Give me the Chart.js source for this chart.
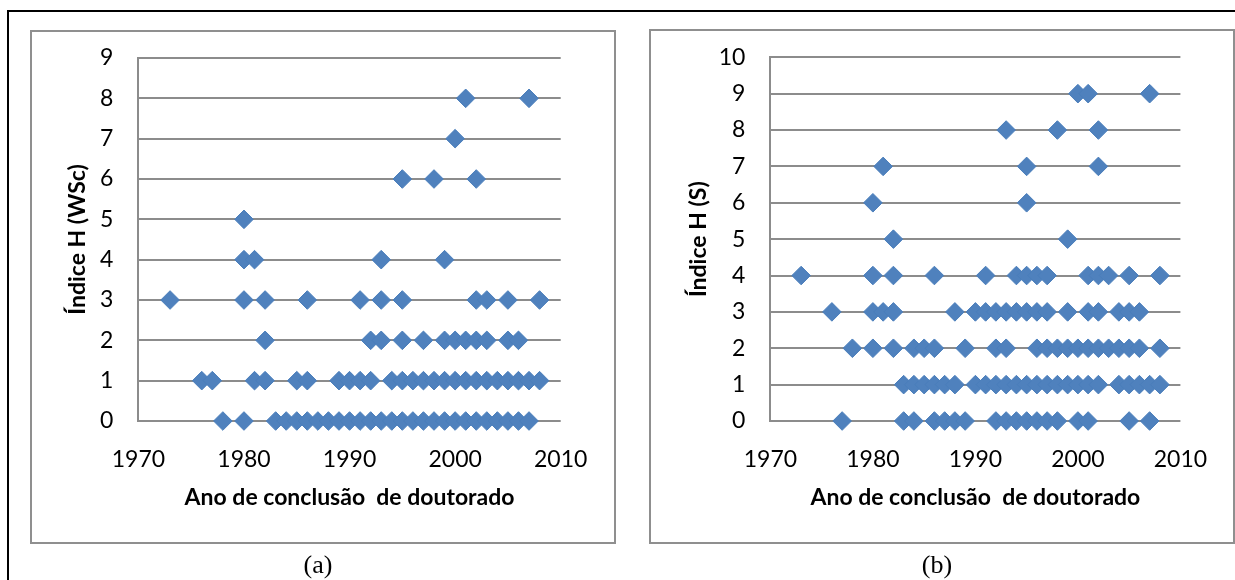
<!DOCTYPE html>
<html>
<head>
<meta charset="utf-8">
<script src="https://cdn.jsdelivr.net/npm/chart.js@4"></script>
<style>
  html, body { margin: 0; padding: 0; background: #fff; }
  body { width: 1235px; height: 580px; position: relative; overflow: hidden; }
  .frame { position: absolute; left: 7px; top: 10px; width: 1230px; height: 572px;
           border-top: 2px solid #000; border-left: 2px solid #000; box-sizing: border-box; }
  .box { position: absolute; border: 2px solid #8f8f8f; box-sizing: border-box; }
  canvas { position: absolute; top: 0; }
  .cap { position: absolute; top: 550px; width: 80px; height: 30px; line-height: 30px; text-align: center;
         font-family: "Liberation Serif", "DejaVu Serif", serif; font-size: 26px; color: #000; }
</style>
</head>
<body>
<div class="frame"></div>
<div class="box" style="left:30px; top:30px; width:586px; height:514px;"></div>
<div class="box" style="left:649px; top:29px; width:586px; height:515px;"></div>
<div style="position:absolute; left:0; top:0; width:617px; height:580px;"><canvas id="chartA"></canvas></div>
<div style="position:absolute; left:617px; top:0; width:618px; height:580px;"><canvas id="chartB"></canvas></div>
<div class="cap" style="left:278px;">(a)</div>
<div class="cap" style="left:897px;">(b)</div>
<script>
// ---- Data: years of doctorate conclusion per H-index value ----
// Chart (a): Índice H (WSc)
const wscH0 = [1978, 1980, 1983, 1984, 1985, 1986, 1987, 1988, 1989, 1990, 1991, 1992, 1993, 1994, 1995, 1996, 1997, 1998, 1999, 2000, 2001, 2002, 2003, 2004, 2005, 2006, 2007];
const wscH1 = [1976, 1977, 1981, 1982, 1985, 1986, 1989, 1990, 1991, 1992, 1994, 1995, 1996, 1997, 1998, 1999, 2000, 2001, 2002, 2003, 2004, 2005, 2006, 2007, 2008];
const wscH2 = [1982, 1992, 1993, 1995, 1997, 1999, 2000, 2001, 2002, 2003, 2005, 2006];
const wscH3 = [1973, 1980, 1982, 1986, 1991, 1993, 1995, 2002, 2003, 2005, 2008];
const wscH4 = [1980, 1981, 1993, 1999];
const wscH5 = [1980];
const wscH6 = [1995, 1998, 2002];
const wscH7 = [2000];
const wscH8 = [2001, 2007];
const wscRows = [wscH0, wscH1, wscH2, wscH3, wscH4, wscH5, wscH6, wscH7, wscH8];

// Chart (b): Índice H (S)
const sH0 = [1977, 1983, 1984, 1986, 1987, 1988, 1989, 1992, 1993, 1994, 1995, 1996, 1997, 1998, 2000, 2001, 2005, 2007];
const sH1 = [1983, 1984, 1985, 1986, 1987, 1988, 1990, 1991, 1992, 1993, 1994, 1995, 1996, 1997, 1998, 1999, 2000, 2001, 2002, 2004, 2005, 2006, 2007, 2008];
const sH2 = [1978, 1980, 1982, 1984, 1985, 1986, 1989, 1992, 1993, 1996, 1997, 1998, 1999, 2000, 2001, 2002, 2003, 2004, 2005, 2006, 2008];
const sH3 = [1976, 1980, 1981, 1982, 1988, 1990, 1991, 1992, 1993, 1994, 1995, 1996, 1997, 1999, 2001, 2002, 2004, 2005, 2006];
const sH4 = [1973, 1980, 1982, 1986, 1991, 1994, 1995, 1996, 1997, 2001, 2002, 2003, 2005, 2008];
const sH5 = [1982, 1999];
const sH6 = [1980, 1995];
const sH7 = [1981, 1995, 2002];
const sH8 = [1993, 1998, 2002];
const sH9 = [2000, 2001, 2007];
const sRows = [sH0, sH1, sH2, sH3, sH4, sH5, sH6, sH7, sH8, sH9];

// Axis ranges / tick labels
const xTicks = [1970, 1980, 1990, 2000, 2010];
const yMaxA = 9;
const yMaxB = 10;

const xTitle = 'Ano de conclusão  de doutorado';
const yTitleA = 'Índice H (WSc)';
const yTitleB = 'Índice H (S)';

function rowsToPoints(rows) {
  const pts = [];
  rows.forEach((years, h) => years.forEach(yr => pts.push({ x: yr, y: h })));
  return pts;
}

const GRID = '#8c8c8c';
const tickFont = { family: 'Lato, "Open Sans", sans-serif', size: 23 };
const titleFont = { family: 'Lato, "Open Sans", sans-serif', size: 23, weight: 'bold' };

function makeChart(id, rows, yMax, yTitle, geo) {
  const ctx = document.getElementById(id);
  return new Chart(ctx, {
    type: 'scatter',
    data: {
      datasets: [{
        data: rowsToPoints(rows),
        pointStyle: 'rectRot',
        pointRadius: 9.3,
        pointHoverRadius: 9.3,
        backgroundColor: '#4F81BD',
        borderColor: '#4A7EBB',
        borderWidth: 1,
        clip: false
      }]
    },
    options: {
      responsive: true,
      maintainAspectRatio: false,
      animation: false,
      events: [],
      layout: { padding: { left: 0, top: geo.top, right: geo.right, bottom: geo.bottom } },
      plugins: { legend: { display: false }, tooltip: { enabled: false } },
      scales: {
        x: {
          type: 'linear',
          min: xTicks[0],
          max: xTicks[xTicks.length - 1],
          afterBuildTicks: s => { s.ticks = xTicks.map(v => ({ value: v })); },
          ticks: { padding: 25, color: '#000', font: tickFont, callback: v => String(v), maxRotation: 0 },
          grid: { display: false, drawTicks: false },
          border: { display: false },
          title: { display: true, text: xTitle, color: '#000', font: titleFont, padding: 0 },
          afterFit: s => { s.height = geo.xHeight; }
        },
        y: {
          min: 0,
          max: yMax,
          ticks: { stepSize: 1, padding: geo.yPad, color: '#000', font: tickFont },
          grid: { color: GRID, lineWidth: 2, drawTicks: false },
          border: { display: true, color: GRID, width: 2 },
          title: { display: true, text: yTitle, color: '#000', font: titleFont, padding: { top: geo.yTitlePad, bottom: 0 } },
          afterFit: s => { s.width = geo.yWidth; }
        }
      }
    }
  });
}

makeChart('chartA', wscRows, yMaxA, yTitleA,
  { top: 58, right: 56.3, bottom: 68.6, xHeight: 90.4, yWidth: 138.4, yPad: 25, yTitlePad: 64 });
makeChart('chartB', sRows, yMaxB, yTitleB,
  { top: 57.3, right: 54.6, bottom: 68.6, xHeight: 90.4, yWidth: 153.4, yPad: 25, yTitlePad: 68 });
</script>
</body>
</html>
